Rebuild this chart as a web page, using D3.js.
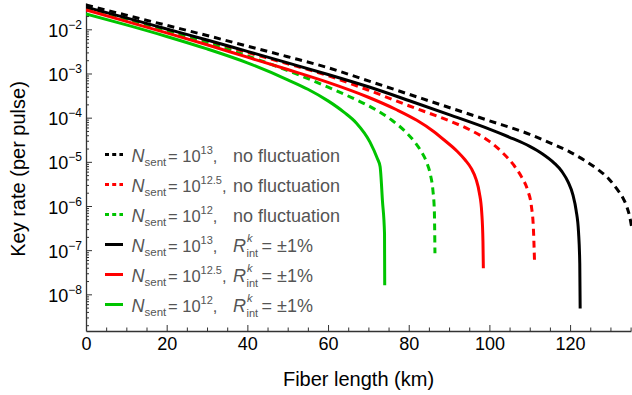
<!DOCTYPE html>
<html>
<head>
<meta charset="utf-8">
<script src="https://cdn.jsdelivr.net/npm/d3@7"></script>
<style>
  body { margin: 0; background: #fff; }
  svg { font-family: "Liberation Sans", Arial, sans-serif; }
</style>
</head>
<body>
<svg></svg>
<script>
// fiber length (km) vs key rate per pulse
let blackDash = [[0, 0.0355], [10, 0.0209], [20, 0.0123], [30, 0.00724], [40, 0.00417], [50, 0.0024], [60, 0.00135],
  [70, 6.8e-4], [80, 3.4e-4], [90, 1.7e-4], [100, 8.5e-5], [110, 4.2e-5], [115, 2.7e-5], [120, 1.66e-5], [124, 1.02e-5],
  [127, 6.6e-6], [129.5, 4.2e-6], [131.5, 2.5e-6], [133, 1.58e-6], [134, 1.0e-6], [134.8, 5.6e-7], [135.3, 3.2e-7]]
let blackSolid = [[0, 0.0316], [10, 0.0182], [20, 0.0102], [30, 0.00575], [40, 0.00316], [50, 0.00174], [60, 9.5e-4],
  [70, 5.0e-4], [80, 2.45e-4], [90, 1.17e-4], [100, 5.5e-5], [105, 3.6e-5], [110, 2.24e-5], [113, 1.55e-5], [116, 9.5e-6],
  [118, 6.0e-6], [119.5, 3.5e-6], [120.7, 1.78e-6], [121.5, 7.9e-7], [122.1, 2.5e-7], [122.4, 5.0e-8], [122.5, 4.8e-9]]
let redDash = [[0, 0.0302], [10, 0.0174], [20, 0.0098], [30, 0.0055], [40, 0.0030], [50, 0.00166], [60, 8.9e-4],
  [70, 4.2e-4], [80, 1.86e-4], [90, 8.5e-5], [95, 5.4e-5], [100, 2.9e-5], [103, 1.7e-5], [106, 8.5e-6], [108, 4.5e-6],
  [109.5, 2.24e-6], [110.4, 1.0e-6], [110.9, 3.2e-7], [111.2, 5.0e-8]]
let redSolid = [[0, 0.0275], [10, 0.0151], [20, 0.0083], [30, 0.00447], [40, 0.00234], [50, 0.00123], [60, 6.3e-4],
  [70, 2.9e-4], [77, 1.51e-4], [82, 8.7e-5], [86, 5.0e-5], [89, 3.0e-5], [92, 1.74e-5], [94, 1.1e-5], [95.5, 7.1e-6],
  [96.7, 4.0e-6], [97.5, 2.0e-6], [98.1, 7.1e-7], [98.4, 1.6e-7], [98.5, 3.9e-8]]
let greenDash = [[0, 0.0288], [10, 0.0166], [20, 0.0091], [30, 0.0049], [40, 0.0025], [50, 0.00117], [60, 4.9e-4],
  [66, 2.8e-4], [72, 1.48e-4], [76, 8.5e-5], [79, 5.0e-5], [81.5, 2.8e-5], [83.2, 1.66e-5], [84.5, 9.5e-6], [85.4, 5.0e-6],
  [86, 2.24e-6], [86.35, 7.9e-7], [86.5, 8.5e-8]]
let greenSolid = [[0, 0.0224], [10, 0.0126], [20, 0.0069], [30, 0.0036], [40, 0.00174], [50, 7.2e-4], [55, 4.4e-4],
  [60, 2.4e-4], [64, 1.32e-4], [67, 7.6e-5], [70.4, 2.8e-5], [72.2, 1.2e-5], [72.9, 7.8e-6], [73.5, 1.26e-6],
  [74, 2.4e-7], [74.05, 1.6e-8]]

let xTicks = [0, 20, 40, 60, 80, 100, 120]
let yExps = [-8, -7, -6, -5, -4, -3, -2]
let sentExps = ['13', '12.5', '12', '13', '12.5', '12']

let series = [
  { data: blackDash, color: '#000', dash: true, exp: 0 },
  { data: redDash, color: '#ff0000', dash: true, exp: 1 },
  { data: greenDash, color: '#00c400', dash: true, exp: 2 },
  { data: blackSolid, color: '#000', dash: false, exp: 3 },
  { data: redSolid, color: '#ff0000', dash: false, exp: 4 },
  { data: greenSolid, color: '#00c400', dash: false, exp: 5 }
]

let w = 632
let h = 395
let padLeft = 86, padRight = 631, padTop = 3, padBottom = 331

let svg = d3.select('svg').attr('width', w).attr('height', h)

let x = d3.scaleLinear().domain([0, 135.1]).range([padLeft, padRight])
let y = d3.scaleLog().domain([Math.pow(10, -8.83), Math.pow(10, -1.404)]).range([padBottom, padTop])

// minor ticks
let xMinor = d3.range(0, 136, 5).filter(v => v % 20 !== 0)
let yMinor = []
for (let e = -9; e <= -2; e++) {
  for (let m = 2; m <= 9; m++) {
    let v = m * Math.pow(10, e)
    if (v >= y.domain()[0] && v <= y.domain()[1]) yMinor.push(v)
  }
}

let axisColor = '#333'

svg.append('g')
   .attr('transform', 'translate(0,' + padBottom + ')')
   .call(d3.axisBottom(x).tickValues(xMinor).tickSizeInner(-3.5).tickSizeOuter(0).tickFormat(''))
   .call(g => g.select('.domain').remove())
   .selectAll('line').attr('stroke', axisColor)

svg.append('g')
   .attr('transform', 'translate(' + padLeft + ',0)')
   .call(d3.axisLeft(y).tickValues(yMinor).tickSizeInner(-3).tickSizeOuter(0).tickFormat(''))
   .call(g => g.select('.domain').remove())
   .selectAll('line').attr('stroke', axisColor)

let xAxis = svg.append('g')
   .attr('transform', 'translate(0,' + padBottom + ')')
   .call(d3.axisBottom(x).tickValues(xTicks).tickSizeInner(-6).tickSizeOuter(0).tickPadding(6))
xAxis.select('.domain').attr('stroke', axisColor).attr('stroke-width', 1.3)
xAxis.selectAll('line').attr('stroke', axisColor)
xAxis.selectAll('text').attr('font-size', 18).attr('fill', '#000')
     .attr('font-family', '"Liberation Sans", Arial, sans-serif')

let yAxis = svg.append('g')
   .attr('transform', 'translate(' + padLeft + ',0)')
   .call(d3.axisLeft(y).tickValues(yExps.map(e => Math.pow(10, e))).tickSizeInner(-6).tickSizeOuter(0).tickPadding(4))
yAxis.select('.domain').attr('stroke', axisColor).attr('stroke-width', 1.3)
yAxis.selectAll('line').attr('stroke', axisColor)
yAxis.selectAll('text')
     .attr('font-family', '"Liberation Sans", Arial, sans-serif')
     .attr('fill', '#000')
     .attr('dy', null)
     .attr('y', 7)
     .each(function(d, i) {
       let t = d3.select(this).text(null)
       t.append('tspan').attr('font-size', 18).text('10')
       t.append('tspan').attr('font-size', 12).attr('dy', -8).text('\u2212' + (-yExps[i]))
     })

// axis titles
svg.append('text')
   .attr('x', (padLeft + padRight) / 2)
   .attr('y', 386)
   .attr('text-anchor', 'middle')
   .attr('font-size', 20)
   .text('Fiber length (km)')

svg.append('text')
   .attr('transform', 'translate(25,' + ((padTop + padBottom) / 2 + 2) + ') rotate(-90)')
   .attr('text-anchor', 'middle')
   .attr('font-size', 20)
   .text('Key rate (per pulse)')

// curves
svg.append('clipPath').attr('id', 'plot')
   .append('rect').attr('x', padLeft).attr('y', padTop - 3).attr('width', w - padLeft).attr('height', padBottom - padTop + 3)

let line = d3.line()
   .x(d => x(d[0]))
   .y(d => y(d[1]))
   .curve(d3.curveMonotoneX)

svg.append('g').attr('clip-path', 'url(#plot)')
   .selectAll('path')
   .data(series)
   .enter()
   .append('path')
   .attr('d', d => line(d.data))
   .attr('fill', 'none')
   .attr('stroke', d => d.color)
   .attr('stroke-width', 3)
   .attr('stroke-dasharray', d => d.dash ? '7,5' : null)

// legend
let rowY = [154.5, 184.5, 214.5, 244.5, 274.5, 304.5]
let legendColor = '#555'

let legend = svg.append('g')
series.forEach((s, i) => {
  let ry = rowY[i]
  legend.append('line')
     .attr('x1', 105).attr('x2', 123)
     .attr('y1', ry).attr('y2', ry)
     .attr('stroke', s.color)
     .attr('stroke-width', 3)
     .attr('stroke-dasharray', s.dash ? '4,3.2' : null)

  let t = legend.append('text').attr('fill', legendColor)
  let base = ry + 7
  t.append('tspan').attr('x', 131.5).attr('y', base).attr('font-size', 18).attr('font-style', 'italic').text('N')
  t.append('tspan').attr('x', 144.5).attr('y', base + 4).attr('font-size', 11.5).text('sent')
  t.append('tspan').attr('x', 168).attr('y', base).attr('font-size', 16.5).text('= 10')
  t.append('tspan').attr('y', base - 8).attr('font-size', 11).text(sentExps[s.exp])
  t.append('tspan').attr('y', base).attr('font-size', 16.5).text(',')

  if (s.dash) {
    legend.append('text').attr('fill', legendColor)
       .attr('x', 233).attr('y', base).attr('font-size', 18).text('no fluctuation')
  } else {
    legend.append('text').attr('fill', legendColor)
       .attr('x', 233).attr('y', base).attr('font-size', 18).attr('font-style', 'italic').text('R')
    legend.append('text').attr('fill', legendColor)
       .attr('x', 247).attr('y', base - 9.5).attr('font-size', 11).attr('font-style', 'italic').text('k')
    legend.append('text').attr('fill', legendColor)
       .attr('x', 246.5).attr('y', base + 5).attr('font-size', 11).text('int')
    legend.append('text').attr('fill', legendColor)
       .attr('x', 261.5).attr('y', base).attr('font-size', 18).text('= \u00b11%')
  }
})
</script>
</body>
</html>
